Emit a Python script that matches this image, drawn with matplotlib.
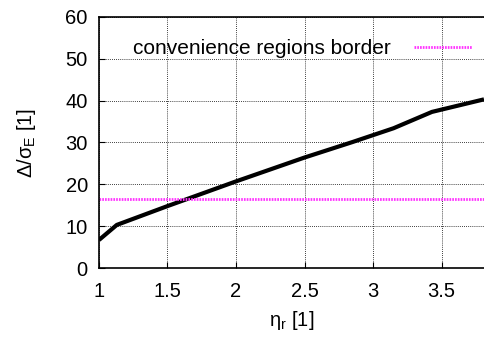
import matplotlib.pyplot as plt

plt.rcParams['font.family'] = ['Liberation Sans', 'DejaVu Sans']

eta_r = [1.0, 1.13, 1.5, 2.0, 2.5, 2.85, 3.15, 3.43, 3.81]
delta_sigma = [6.7, 10.3, 14.8, 20.7, 26.4, 30.1, 33.4, 37.3, 40.3]
border_level = 16.5

fig = plt.figure(figsize=(4.84, 3.38), dpi=100)
ax = fig.add_axes([0.2045, 0.207, 0.7955, 0.743])

ax.plot(eta_r, delta_sigma, color='black', lw=3, solid_capstyle='butt')
ax.axhline(border_level, color='#ff33ff', lw=2, ls=(0, (0.6, 0.4)),
           label='convenience regions border')

ax.set_xlim(1, 3.81)
ax.set_ylim(0, 60)
ax.set_xticks([1, 1.5, 2, 2.5, 3, 3.5])
ax.set_xticklabels(['1', '1.5', '2', '2.5', '3', '3.5'])
ax.set_yticks(range(0, 61, 10))
ax.grid(True, color='black', ls=(0, (1, 1.5)), lw=0.6)
ax.tick_params(direction='in', length=4, labelsize=14.5)
ax.tick_params(axis='x', pad=10)
ax.tick_params(axis='y', pad=8)
ax.spines['right'].set_visible(False)
for s in ['left', 'bottom', 'top']:
    ax.spines[s].set_linewidth(1.2)

ax.set_xlabel(r'$\mathregular{\eta_r}$ [1]', fontsize=14.5, labelpad=6)
ax.set_ylabel(r'$\mathregular{\Delta/\sigma_E}$ [1]', fontsize=14.5, labelpad=20)

ax.legend(loc='upper right', frameon=False, markerfirst=False, fontsize=15,
          handlelength=2.8, handletextpad=1.1, bbox_to_anchor=(1.008, 0.97),
          borderaxespad=0.3)

fig.savefig('out.png', dpi=100)
